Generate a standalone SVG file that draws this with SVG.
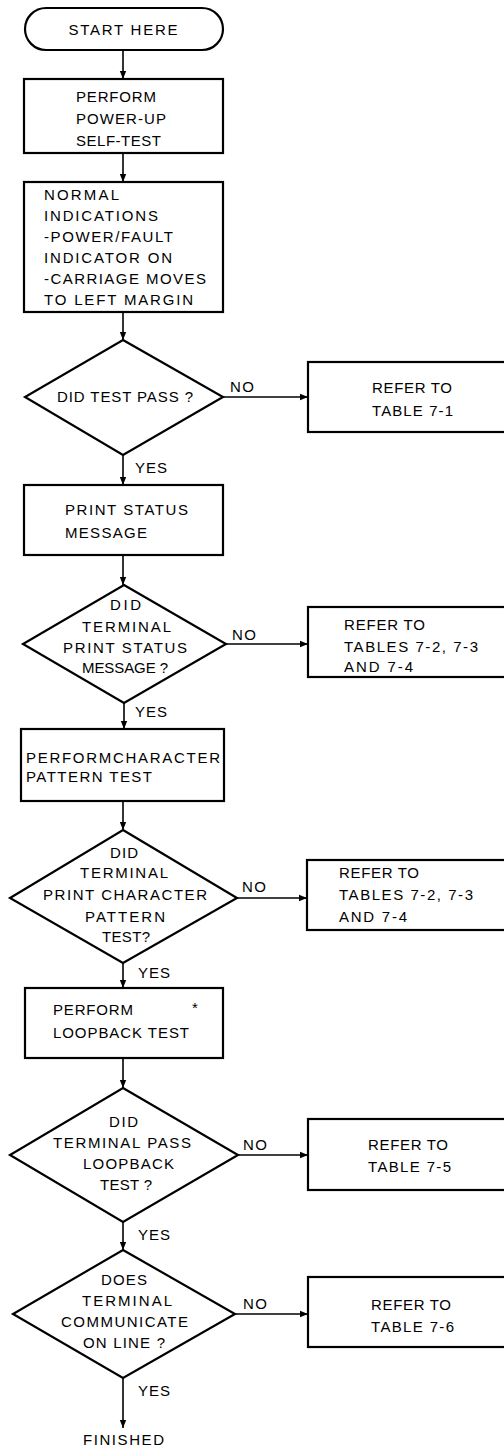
<svg xmlns="http://www.w3.org/2000/svg" width="504" height="1449" viewBox="0 0 504 1449">
<style>
.s{fill:none;stroke:#000;stroke-width:2.2}
.c{fill:none;stroke:#000;stroke-width:1.6}
text{font-family:"Liberation Sans",Arial,sans-serif;font-size:15px;fill:#000}
.m{text-anchor:middle}
</style>
<defs>
<marker id="ah" viewBox="0 0 8 8" refX="8" refY="4" markerWidth="8" markerHeight="8" markerUnits="userSpaceOnUse" orient="auto">
<path d="M0,0.8 L8,4 L0,7.2 Z" fill="#000"/>
</marker>
</defs>
<rect width="504" height="1449" fill="#fff"/>
<g id="connectors">
<line class="c" x1="123" y1="50" x2="123" y2="79" marker-end="url(#ah)"/>
<line class="c" x1="123" y1="153" x2="123" y2="182" marker-end="url(#ah)"/>
<line class="c" x1="123" y1="312" x2="123" y2="340" marker-end="url(#ah)"/>
<line class="c" x1="223" y1="397" x2="308" y2="397" marker-end="url(#ah)"/>
<line class="c" x1="123" y1="455" x2="123" y2="485" marker-end="url(#ah)"/>
<line class="c" x1="123" y1="555" x2="123" y2="585" marker-end="url(#ah)"/>
<line class="c" x1="226" y1="644" x2="308" y2="644" marker-end="url(#ah)"/>
<line class="c" x1="124" y1="703" x2="124" y2="729" marker-end="url(#ah)"/>
<line class="c" x1="123" y1="801" x2="123" y2="830" marker-end="url(#ah)"/>
<line class="c" x1="237" y1="898" x2="307" y2="898" marker-end="url(#ah)"/>
<line class="c" x1="123" y1="963" x2="123" y2="988" marker-end="url(#ah)"/>
<line class="c" x1="123" y1="1058" x2="123" y2="1088" marker-end="url(#ah)"/>
<line class="c" x1="238" y1="1155" x2="308" y2="1155" marker-end="url(#ah)"/>
<line class="c" x1="123" y1="1222" x2="123" y2="1250" marker-end="url(#ah)"/>
<line class="c" x1="235" y1="1314" x2="308" y2="1314" marker-end="url(#ah)"/>
<line class="c" x1="123" y1="1378" x2="123" y2="1428" marker-end="url(#ah)"/>
<text x="230" y="392" textLength="24">NO</text>
<text x="135" y="473" textLength="32">YES</text>
<text x="232" y="640" textLength="24">NO</text>
<text x="135" y="717" textLength="32">YES</text>
<text x="242" y="892" textLength="24">NO</text>
<text x="138" y="978" textLength="32">YES</text>
<text x="243" y="1150" textLength="24">NO</text>
<text x="138" y="1240" textLength="32">YES</text>
<text x="243" y="1309" textLength="24">NO</text>
<text x="138" y="1396" textLength="32">YES</text>
</g>
<g id="start">
<rect class="s" x="25" y="8" width="198" height="42" rx="21" ry="21"/>
<text class="m" x="123" y="35" textLength="109">START HERE</text>
</g>
<g id="selftest">
<rect class="s" x="24" y="79" width="199" height="74"/>
<text x="76" y="102" textLength="80">PERFORM</text>
<text x="76" y="124" textLength="90">POWER-UP</text>
<text x="76" y="146" textLength="85">SELF-TEST</text>
</g>
<g id="normal">
<rect class="s" x="24" y="182" width="199" height="130"/>
<text x="44" y="200" textLength="75">NORMAL</text>
<text x="44" y="221" textLength="114">INDICATIONS</text>
<text x="44" y="242" textLength="129">-POWER/FAULT</text>
<text x="44" y="263" textLength="128">INDICATOR ON</text>
<text x="44" y="284" textLength="162">-CARRIAGE MOVES</text>
<text x="44" y="305" textLength="149">TO LEFT MARGIN</text>
</g>
<g id="d1">
<polygon class="s" points="123,340 223,397 123,455 25,397"/>
<text x="57" y="402" textLength="136">DID TEST PASS ?</text>
</g>
<g id="r1">
<rect class="s" x="308" y="362" width="200" height="70"/>
<text x="372" y="393" textLength="80">REFER TO</text>
<text x="372" y="416" textLength="81">TABLE 7-1</text>
</g>
<g id="status">
<rect class="s" x="24" y="485" width="199" height="70"/>
<text x="65" y="515" textLength="123">PRINT STATUS</text>
<text x="65" y="538" textLength="82">MESSAGE</text>
</g>
<g id="d2">
<polygon class="s" points="124,585 226,644 124,703 23,644"/>
<text x="110" y="610" textLength="31">DID</text>
<text x="82" y="632" textLength="89">TERMINAL</text>
<text x="63" y="653" textLength="124">PRINT STATUS</text>
<text x="82" y="673" textLength="86">MESSAGE ?</text>
</g>
<g id="r2">
<rect class="s" x="308" y="607" width="200" height="70"/>
<text x="344" y="630" textLength="81">REFER TO</text>
<text x="344" y="652" textLength="134">TABLES 7-2, 7-3</text>
<text x="344" y="672" textLength="69">AND 7-4</text>
</g>
<g id="charpat">
<rect class="s" x="21" y="729" width="203" height="72"/>
<text x="26" y="763" textLength="194">PERFORMCHARACTER</text>
<text x="26" y="782" textLength="126">PATTERN TEST</text>
</g>
<g id="d3">
<polygon class="s" points="123,830 237,898 123,963 10,898"/>
<text x="110" y="858" textLength="28">DID</text>
<text x="80" y="878" textLength="88">TERMINAL</text>
<text x="43" y="900" textLength="164">PRINT CHARACTER</text>
<text x="85" y="922" textLength="80">PATTERN</text>
<text x="102" y="942" textLength="48">TEST?</text>
</g>
<g id="r3">
<rect class="s" x="307" y="860" width="200" height="70"/>
<text x="339" y="878" textLength="80">REFER TO</text>
<text x="339" y="900" textLength="134">TABLES 7-2, 7-3</text>
<text x="339" y="922" textLength="68">AND 7-4</text>
</g>
<g id="loopback">
<rect class="s" x="25" y="988" width="198" height="70"/>
<text x="53" y="1015" textLength="80">PERFORM</text>
<text x="53" y="1038" textLength="136">LOOPBACK TEST</text>
<text x="192" y="1013">*</text>
</g>
<g id="d4">
<polygon class="s" points="123,1088 238,1155 123,1222 10,1155"/>
<text x="109" y="1127" textLength="29">DID</text>
<text x="53" y="1148" textLength="138">TERMINAL PASS</text>
<text x="83" y="1169" textLength="91">LOOPBACK</text>
<text x="100" y="1190" textLength="52">TEST ?</text>
</g>
<g id="r4">
<rect class="s" x="308" y="1119" width="200" height="71"/>
<text x="368" y="1150" textLength="80">REFER TO</text>
<text x="368" y="1172" textLength="83">TABLE 7-5</text>
</g>
<g id="d5">
<polygon class="s" points="123,1250 235,1314 123,1378 13,1314"/>
<text x="101" y="1285" textLength="46">DOES</text>
<text x="82" y="1306" textLength="90">TERMINAL</text>
<text x="61" y="1327" textLength="127">COMMUNICATE</text>
<text x="83" y="1348" textLength="82">ON LINE ?</text>
</g>
<g id="r5">
<rect class="s" x="308" y="1277" width="200" height="70"/>
<text x="371" y="1310" textLength="80">REFER TO</text>
<text x="371" y="1332" textLength="83">TABLE 7-6</text>
</g>
<g id="finished">
<text x="83" y="1445" textLength="81">FINISHED</text>
</g>
</svg>
